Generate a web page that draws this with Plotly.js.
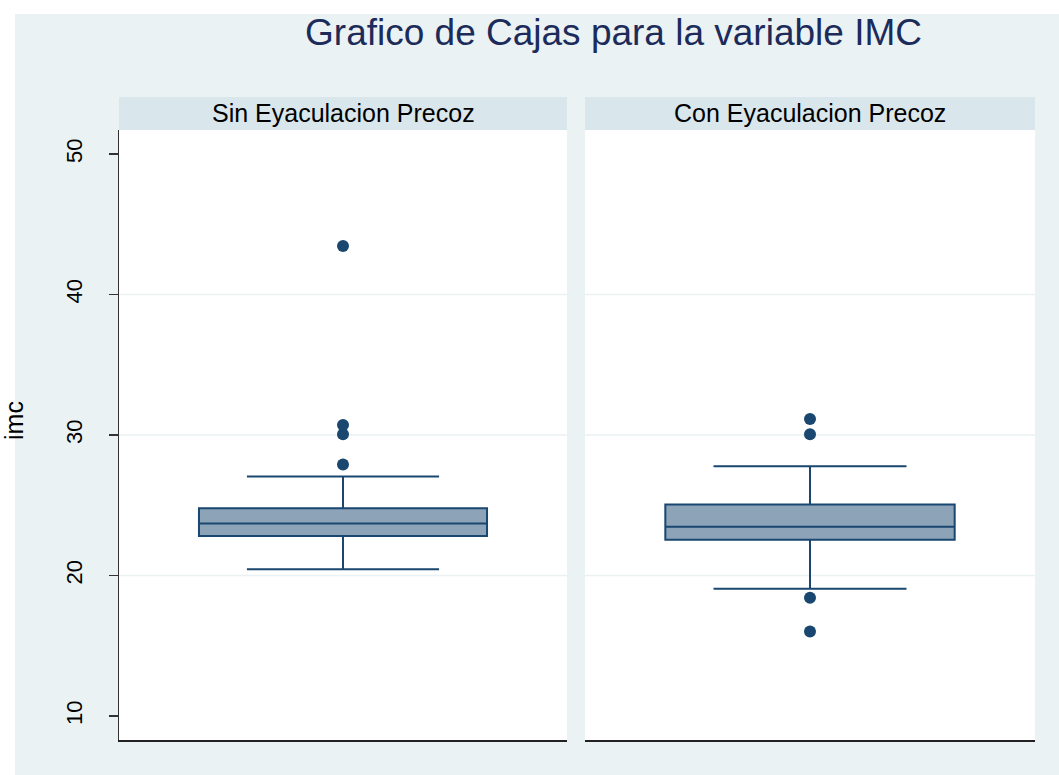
<!DOCTYPE html>
<html>
<head>
<meta charset="utf-8">
<script src="https://cdn.plot.ly/plotly-3.0.1.min.js"></script>
<style>
html,body{margin:0;padding:0;background:#ffffff;}
#chart{width:1059px;height:775px;}
</style>
</head>
<body>
<div id="chart"></div>
<script>
// Data
const panels = ["Sin Eyaculacion Precoz", "Con Eyaculacion Precoz"];
const q1Vals = [22.81, 22.55];
const medianVals = [23.70, 23.47];
const q3Vals = [24.79, 25.05];
const lowerWhisker = [20.45, 19.06];
const upperWhisker = [27.05, 27.77];
const outliersSin = [27.90, 30.05, 30.71, 43.45];
const outliersCon = [30.05, 31.14, 18.42, 16.02];
const yTicks = [10, 20, 30, 40, 50];
const gridVals = [20, 30, 40];
const yTitle = "imc";

const lineCol = "#1A476F";
const fillCol = "#8DA3B8";
const outlierSets = [outliersSin, outliersCon];
const xAxes = ["x", "x2"];

const traces = [];
panels.forEach((p, i) => {
  traces.push({
    type: "box",
    name: p,
    x: [0],
    q1: [q1Vals[i]],
    median: [medianVals[i]],
    q3: [q3Vals[i]],
    lowerfence: [lowerWhisker[i]],
    upperfence: [upperWhisker[i]],
    boxpoints: false,
    width: 0.643,
    whiskerwidth: 0.667,
    fillcolor: fillCol,
    line: {color: lineCol, width: 2},
    xaxis: xAxes[i],
    yaxis: "y",
    hoverinfo: "y"
  });
  traces.push({
    type: "scatter",
    mode: "markers",
    x: outlierSets[i].map(() => 0),
    y: outlierSets[i],
    marker: {color: lineCol, size: 12},
    xaxis: xAxes[i],
    yaxis: "y",
    hoverinfo: "y"
  });
});

const d1 = [0, 448/916];
const d2 = [466/916, 1];

const shapes = [];
// background crop strips (white) at left and top
shapes.push({type:"rect", xref:"paper", yref:"paper", x0:-0.14, x1:(15-119)/916, y0:-0.06, y1:1.22, fillcolor:"#ffffff", line:{width:0}, layer:"below"});
shapes.push({type:"rect", xref:"paper", yref:"paper", x0:-0.14, x1:1.03, y0:(740-14)/610, y1:1.22, fillcolor:"#ffffff", line:{width:0}, layer:"below"});
// panel headers
[d1, d2].forEach(d => {
  shapes.push({type:"rect", xref:"paper", yref:"paper", x0:d[0], x1:d[1], y0:1, y1:(740-97)/610, fillcolor:"#D9E6EB", line:{width:0}, layer:"below"});
});
// gridlines
["x", "x2"].forEach(ax => {
  gridVals.forEach(g => {
    shapes.push({type:"line", xref: ax + " domain", yref:"y", x0:0, x1:1, y0:g, y1:g, line:{color:"#EAF2F3", width:1.5}, layer:"below"});
  });
});

const annotations = panels.map((p, i) => {
  const d = i === 0 ? d1 : d2;
  return {text: p, xref:"paper", yref:"paper", x:(d[0]+d[1])/2, y:(1 + (740-97)/610)/2, xanchor:"center", yanchor:"middle", showarrow:false, font:{family:"Liberation Sans, Arial, sans-serif", size:25, color:"#000000"}};
});
// y-axis title (Stata centres it on the whole graph height)
annotations.push({text: yTitle, xref:"paper", yref:"paper", x:(14-119)/916, y:(740-421)/610, xanchor:"center", yanchor:"middle", textangle:-90, showarrow:false, font:{family:"Liberation Sans, Arial, sans-serif", size:25, color:"#000000"}});

const layout = {
  width: 1059, height: 775,
  margin: {l:119, r:24, t:130, b:35},
  paper_bgcolor: "#EAF2F3",
  plot_bgcolor: "#ffffff",
  showlegend: false,
  font: {family: "Liberation Sans, Arial, sans-serif", color:"#000000"},
  title: {text: "Grafico de Cajas para la variable IMC", xref:"container", yref:"container", x: 613.5/1059, y: 1 - 32/775, xanchor:"center", yanchor:"middle", font:{size:37, color:"#1C2B5A"}},
  xaxis: {domain: d1, anchor:"y", range:[-0.5, 0.5], showgrid:false, zeroline:false, showticklabels:false, ticks:"", showline:true, linecolor:"#222222", linewidth:1.5, fixedrange:true},
  xaxis2: {domain: d2, anchor:"y", range:[-0.5, 0.5], showgrid:false, zeroline:false, showticklabels:false, ticks:"", showline:true, linecolor:"#222222", linewidth:1.5, fixedrange:true},
  yaxis: {domain:[0,1], anchor:"x", range:[8.29, 51.71], tickvals: yTicks, ticktext: yTicks.map(String), ticks:"outside", ticklen:9, tickwidth:1.2, tickcolor:"#333333", tickangle:-90, tickfont:{size:22}, ticklabelstandoff:18, showgrid:false, zeroline:false, showline:true, linecolor:"#333333", linewidth:1.5},
  shapes: shapes,
  annotations: annotations
};

Plotly.newPlot("chart", traces, layout, {displayModeBar:false, staticPlot:true});
</script>
</body>
</html>
